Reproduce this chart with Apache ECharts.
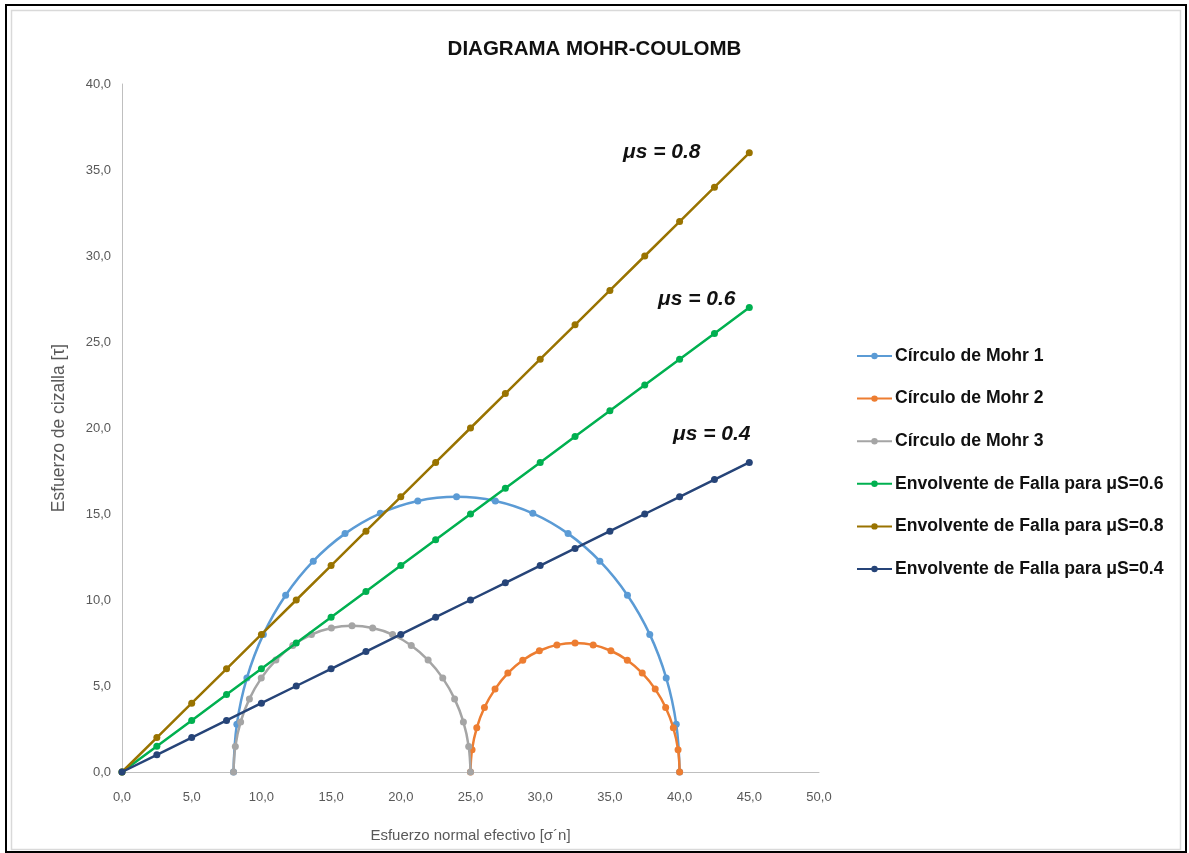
<!DOCTYPE html>
<html>
<head>
<meta charset="utf-8">
<script src="https://cdn.jsdelivr.net/npm/echarts@6/dist/echarts.min.js"></script>
<style>
html,body{margin:0;padding:0;background:#fff;}
#chart{width:1189px;height:853px;}
</style>
</head>
<body>
<div id="chart"></div>
<script>
// ---- data ----
const circle1X = [8.0, 8.24, 8.96, 10.14, 11.74, 13.72, 16.0, 18.53, 21.22, 24.0, 26.78, 29.47, 32.0, 34.28, 36.26, 37.86, 39.04, 39.76, 40.0];
const circle1Y = [0, 2.78, 5.47, 8.0, 10.28, 12.26, 13.86, 15.04, 15.76, 16.0, 15.76, 15.04, 13.86, 12.26, 10.28, 8.0, 5.47, 2.78, 0];
const circle2X = [25.0, 25.11, 25.45, 26.0, 26.76, 27.68, 28.75, 29.94, 31.2, 32.5, 33.8, 35.07, 36.25, 37.32, 38.25, 39.0, 39.55, 39.89, 40.0];
const circle2Y = [0, 1.3, 2.57, 3.75, 4.82, 5.75, 6.5, 7.05, 7.39, 7.5, 7.39, 7.05, 6.5, 5.75, 4.82, 3.75, 2.57, 1.3, 0];
const circle3X = [8.0, 8.13, 8.51, 9.14, 9.99, 11.04, 12.25, 13.59, 15.02, 16.5, 17.98, 19.41, 20.75, 21.96, 23.01, 23.86, 24.49, 24.87, 25.0];
const circle3Y = [0, 1.48, 2.91, 4.25, 5.46, 6.51, 7.36, 7.99, 8.37, 8.5, 8.37, 7.99, 7.36, 6.51, 5.46, 4.25, 2.91, 1.48, 0];
const envelopeX = [0, 2.5, 5, 7.5, 10, 12.5, 15, 17.5, 20, 22.5, 25, 27.5, 30, 32.5, 35, 37.5, 40, 42.5, 45];
const envelope06Y = [0, 1.5, 3, 4.5, 6, 7.5, 9, 10.5, 12, 13.5, 15, 16.5, 18, 19.5, 21, 22.5, 24, 25.5, 27];
const envelope08Y = [0, 2, 4, 6, 8, 10, 12, 14, 16, 18, 20, 22, 24, 26, 28, 30, 32, 34, 36];
const envelope04Y = [0, 1, 2, 3, 4, 5, 6, 7, 8, 9, 10, 11, 12, 13, 14, 15, 16, 17, 18];
const seriesNames = ['Círculo de Mohr 1', 'Círculo de Mohr 2', 'Círculo de Mohr 3',
  'Envolvente de Falla para μS=0.6', 'Envolvente de Falla para μS=0.8', 'Envolvente de Falla para μS=0.4'];
const annotations = ['μs = 0.8', 'μs = 0.6', 'μs = 0.4'];

const zip = (xs, ys) => xs.map((x, i) => [x, ys[i]]);
const colors = ['#5B9BD5', '#ED7D31', '#A5A5A5', '#00B050', '#997300', '#264478'];
const datasets = [
  zip(circle1X, circle1Y), zip(circle2X, circle2Y), zip(circle3X, circle3Y),
  zip(envelopeX, envelope06Y), zip(envelopeX, envelope08Y), zip(envelopeX, envelope04Y)
];
const FONT = "'Liberation Sans', Arial, sans-serif";
const fmt = v => v.toFixed(1).replace('.', ',');

const chart = echarts.init(document.getElementById('chart'), null, {renderer: 'canvas'});
chart.setOption({
  backgroundColor: '#ffffff',
  animation: false,
  title: {
    text: 'DIAGRAMA MOHR-COULOMB',
    left: 'center', top: 34,
    textStyle: {fontFamily: FONT, fontSize: 20.5, fontWeight: 'bold', color: '#111'}
  },
  grid: {left: 122, top: 84, width: 697, height: 688},
  xAxis: {
    type: 'value', min: 0, max: 50, interval: 5,
    name: 'Esfuerzo normal efectivo [σ´n]', nameLocation: 'middle', nameGap: 56,
    nameTextStyle: {fontFamily: FONT, fontSize: 15, color: '#595959'},
    axisLine: {show: true, lineStyle: {color: '#bfbfbf', width: 1}},
    axisTick: {show: false},
    splitLine: {show: false},
    axisLabel: {formatter: fmt, fontFamily: FONT, fontSize: 13, color: '#595959', margin: 19}
  },
  yAxis: {
    type: 'value', min: 0, max: 40, interval: 5,
    name: 'Esfuerzo de cizalla [τ]', nameLocation: 'middle', nameGap: 54,
    nameTextStyle: {fontFamily: FONT, fontSize: 17.5, color: '#595959'},
    axisLine: {show: true, lineStyle: {color: '#bfbfbf', width: 1}},
    axisTick: {show: false},
    splitLine: {show: false},
    axisLabel: {formatter: fmt, fontFamily: FONT, fontSize: 13, color: '#595959', margin: 11}
  },
  legend: {
    orient: 'vertical', left: 851, top: 342,
    itemWidth: 35, itemHeight: 8, itemGap: 24.6,
    textStyle: {fontFamily: FONT, fontSize: 17.6, fontWeight: 'bold', color: '#111', lineHeight: 18, padding: [0, 0, 0, -2]},
    data: seriesNames
  },
  series: seriesNames.map((name, i) => ({
    name: name,
    type: 'line',
    data: datasets[i],
    smooth: i < 3 ? 0.4 : false,
    symbol: 'circle',
    symbolSize: 7,
    showAllSymbol: true,
    lineStyle: {color: colors[i], width: 2.5},
    itemStyle: {color: colors[i]},
    z: 2 + i
  })),
  graphic: [
    {type: 'rect', shape: {x: 6, y: 5, width: 1180, height: 847}, style: {fill: 'none', stroke: '#000', lineWidth: 2}, silent: true},
    {type: 'rect', shape: {x: 11.5, y: 10.5, width: 1169, height: 839}, style: {fill: 'none', stroke: '#d9d9d9', lineWidth: 1.5}, silent: true},
    {type: 'text', left: 623, top: 142, style: {text: annotations[0], font: "italic bold 21px 'Liberation Sans', Arial, sans-serif", fill: '#111'}},
    {type: 'text', left: 658, top: 289, style: {text: annotations[1], font: "italic bold 21px 'Liberation Sans', Arial, sans-serif", fill: '#111'}},
    {type: 'text', left: 673, top: 424, style: {text: annotations[2], font: "italic bold 21px 'Liberation Sans', Arial, sans-serif", fill: '#111'}}
  ]
});
</script>
</body>
</html>
